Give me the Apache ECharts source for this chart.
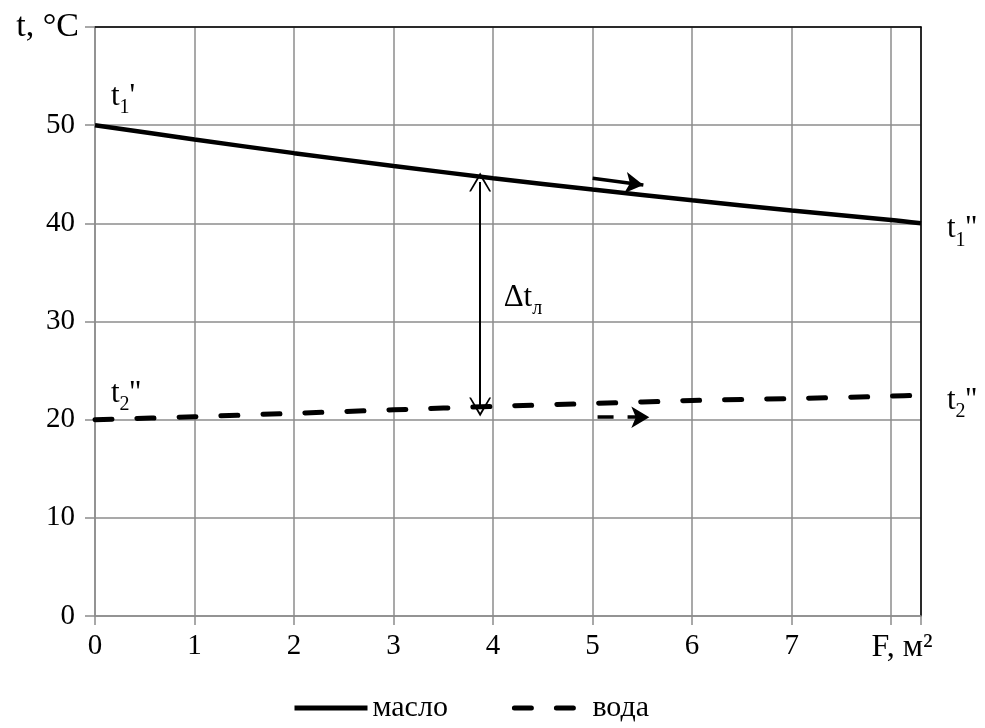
<!DOCTYPE html>
<html>
<head>
<meta charset="utf-8">
<script src="https://cdn.jsdelivr.net/npm/echarts@6/dist/echarts.min.js"></script>
<style>
  html, body { margin: 0; padding: 0; background: #fff; }
  #main { width: 985px; height: 728px; }
</style>
</head>
<body>
<div id="main"></div>
<script>
// площадь поверхности, м2
var F = [0, 1, 2, 3, 4, 5, 6, 7, 8, 8.3];
// температура масла и воды, °C
var oil = [50, 48.55, 47.15, 45.85, 44.6, 43.45, 42.35, 41.3, 40.35, 40.0];
var water = [20, 20.3, 20.65, 21.0, 21.35, 21.65, 21.95, 22.15, 22.4, 22.5];
var seriesNames = ['масло', 'вода'];
var yTicks = [0, 10, 20, 30, 40, 50];
var xAxisTitle = 'F, м²';
var yAxisTitle = 't, °C';

var font = "'Liberation Serif', 'Times New Roman', serif";
var gridGray = '#8c8c8c';

function pairs(xs, ys) {
    return xs.map(function (x, i) { return [x, ys[i]]; });
}

var sub = {
    fontSize: 20, fontFamily: font, color: '#000',
    verticalAlign: 'bottom', lineHeight: 42
};
function tLabel(idx, primes) {
    return 't{s|' + idx + '}' + primes;
}
function note(coord, text, offset, pos, dist) {
    return {
        coord: coord,
        symbol: 'circle',
        symbolSize: 0,
        label: {
            show: true,
            position: pos || 'right',
            distance: dist || 0,
            offset: offset || [0, 0],
            formatter: text,
            fontSize: 31,
            fontFamily: font,
            color: '#000',
            rich: { s: sub }
        }
    };
}

var chevron = 'path://M0,0 L10,18 L8.3,18 L0,3.4 L-8.3,18 L-10,18 Z';

var chartDom = document.getElementById('main');
var myChart = echarts.init(chartDom);
var option;
option = {
    animation: false,
    backgroundColor: '#fff',
    textStyle: { fontFamily: font, color: '#000' },
    grid: { left: 95, top: 27, right: 64, bottom: 112, containLabel: false, outerBoundsMode: 'none' },
    legend: {
        data: seriesNames,
        left: 287,
        bottom: 0,
        itemWidth: 73,
        itemHeight: 14,
        itemGap: 64,
        itemStyle: { color: 'rgba(0,0,0,0)', borderWidth: 0 },
        lineStyle: { width: 5 },
        textStyle: { fontSize: 30, fontFamily: font, color: '#000' }
    },
    xAxis: [
        {
            type: 'value',
            min: 0,
            max: 8.3,
            interval: 1,
            axisLine: { onZero: false, lineStyle: { color: gridGray, width: 1.5 } },
            axisTick: { show: true, length: 9, lineStyle: { color: gridGray, width: 1.5 } },
            splitLine: { lineStyle: { color: gridGray, width: 1.5 } },
            axisLabel: {
                margin: 16,
                fontSize: 29,
                fontFamily: font,
                color: '#000',
                formatter: function (v) {
                    if (v === 8) return '{f|' + xAxisTitle + '}';
                    if (v > 8) return '';
                    return String(v);
                },
                rich: { f: { fontSize: 32, fontFamily: font, color: '#000', padding: [0, 0, 0, 22] } }
            }
        },
        {
            type: 'value',
            position: 'top',
            min: 0,
            max: 8.3,
            axisLine: { show: true, onZero: false, lineStyle: { color: '#000', width: 1.5 } },
            axisTick: { show: false },
            axisLabel: { show: false },
            splitLine: { show: false }
        }
    ],
    yAxis: [
        {
            type: 'value',
            min: 0,
            max: 60,
            interval: 10,
            name: yAxisTitle,
            nameLocation: 'end',
            nameGap: 0,
            nameTextStyle: {
                fontSize: 34, fontFamily: font, color: '#000',
                align: 'right', verticalAlign: 'middle', padding: [0, 16, 0, 0]
            },
            axisLine: { show: true, onZero: false, lineStyle: { color: gridGray, width: 1.5 } },
            axisTick: { show: true, length: 10, lineStyle: { color: gridGray, width: 1.5 } },
            splitLine: { lineStyle: { color: gridGray, width: 1.5 } },
            axisLabel: {
                margin: 20,
                fontSize: 29,
                fontFamily: font,
                color: '#000',
                formatter: function (v) { return yTicks.indexOf(v) >= 0 ? String(v) : ''; }
            }
        },
        {
            type: 'value',
            position: 'right',
            min: 0,
            max: 60,
            axisLine: { show: true, onZero: false, lineStyle: { color: '#000', width: 1.5 } },
            axisTick: { show: false },
            axisLabel: { show: false },
            splitLine: { show: false }
        }
    ],
    series: [
        {
            name: seriesNames[0],
            type: 'line',
            data: pairs(F, oil),
            smooth: 0.3,
            symbol: 'none',
            clip: false,
            lineStyle: { color: '#000', width: 4.5 },
            itemStyle: { color: '#000' },
            markLine: {
                silent: true,
                animation: false,
                label: { show: false },
                data: [
                    [
                        { coord: [3.87, 44.2], symbol: chevron, symbolSize: [22, 19],
                          lineStyle: { color: '#000', width: 2, type: 'solid' } },
                        { coord: [3.87, 21.3], symbol: chevron, symbolSize: [22, 19] }
                    ],
                    [
                        { coord: [5.0, 44.6], symbol: 'none',
                          lineStyle: { color: '#000', width: 3.5, type: 'solid' } },
                        { coord: [5.51, 43.9], symbol: 'arrow', symbolSize: [16, 18] }
                    ]
                ]
            },
            markPoint: {
                silent: true,
                data: [
                    note([0, 50], tLabel(1, "'"), [0, -28], 'right', 16),
                    note([8.3, 40], tLabel(1, "''"), [0, 6], 'right', 26),
                    note([4.3, 32.4], 'Δt{s|л}', [0, 0], 'inside', 0)
                ]
            }
        },
        {
            name: seriesNames[1],
            type: 'line',
            data: pairs(F, water),
            smooth: 0.3,
            symbol: 'none',
            clip: false,
            lineStyle: { color: '#000', width: 5, type: [17, 25], cap: 'round' },
            itemStyle: { color: '#000' },
            markLine: {
                silent: true,
                animation: false,
                label: { show: false },
                data: [
                    [
                        { coord: [5.05, 20.25], symbol: 'none',
                          lineStyle: { color: '#000', width: 3.5, type: [16, 14] } },
                        { coord: [5.57, 20.25], symbol: 'arrow', symbolSize: [16, 18] }
                    ]
                ]
            },
            markPoint: {
                silent: true,
                data: [
                    note([0, 20], tLabel(2, "''"), [0, -26], 'right', 16),
                    note([8.3, 22.5], tLabel(2, "''"), [0, 6], 'right', 26)
                ]
            }
        }
    ]
};
option && myChart.setOption(option);
</script>
</body>
</html>
